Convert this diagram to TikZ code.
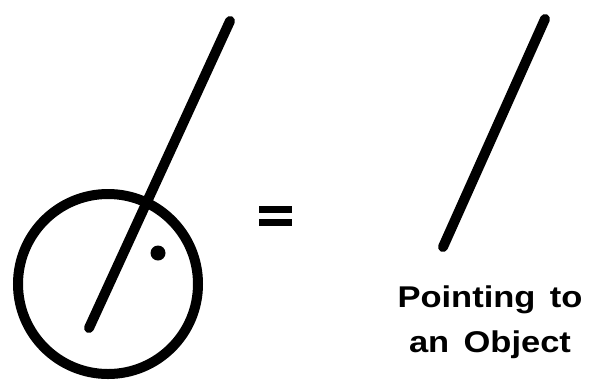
\documentclass[tikz,border=0pt]{standalone}
\usepackage{fontspec}
\newfontfamily\labelfont[WordSpace=1.5]{Liberation Sans Bold}
\usetikzlibrary{positioning}

\newcommand{\wide}[1]{\scalebox{1.15}[1]{#1}}

\begin{document}
\begin{tikzpicture}[
    x=1pt, y=-1pt,
    stroke/.style={line width=10pt, line cap=round},
    bar/.style={fill=black},
    caption/.style={font=\labelfont\fontsize{30}{45}\selectfont, anchor=base, inner sep=0pt}
]
    \useasboundingbox (0,0) rectangle (596,384);

    % symbol with circle
    \coordinate (ctr) at (108,284);
    \draw[line width=10pt] (ctr) circle[radius=90];
    \coordinate (pa) at (89,328);
    \coordinate (pb) at (230,21);
    \draw[stroke] (pa) -- (pb);
    \fill (158,253) circle[radius=7.5];

    % equals sign
    \fill[bar] (259,206) rectangle (292,213);
    \fill[bar] (259,219) rectangle (292,226);

    % plain pointing line
    \coordinate (qa) at (443,247);
    \coordinate (qb) at (545,19);
    \draw[stroke] (qa) -- (qb);

    \node[caption] (top) at (490,307) {\wide{Pointing to}};
    \node[caption] (bot) at (490,352) {\wide{an Object}};
\end{tikzpicture}
\end{document}
